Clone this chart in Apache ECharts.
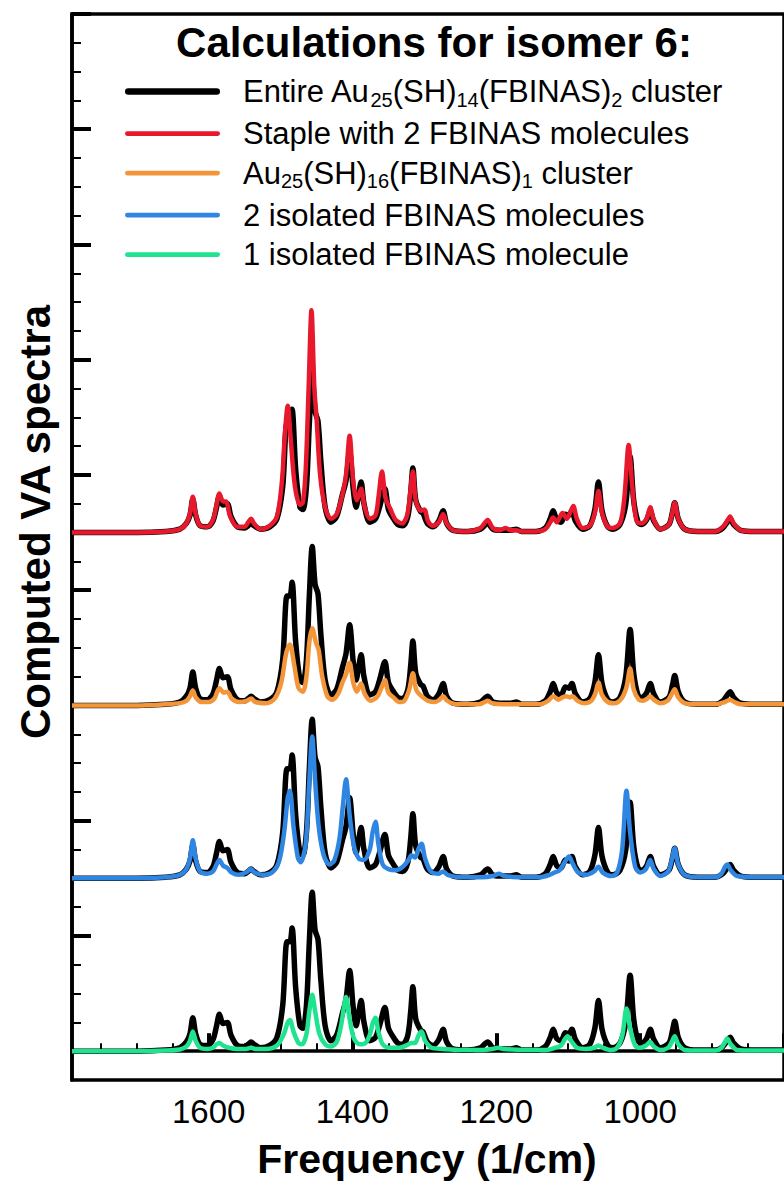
<!DOCTYPE html>
<html>
<head>
<meta charset="utf-8">
<script src="https://cdn.jsdelivr.net/npm/echarts@6/dist/echarts.min.js"></script>
<style>
html,body{margin:0;padding:0;background:#fff;}
#chart{width:784px;height:1183px;}
</style>
</head>
<body>
<div id="chart"></div>
<script>
// ---------- data (frequency in 1/cm, intensity in arbitrary units) ----------
const legendLabels = [
  'Entire Au_{25}(SH)_{14}(FBINAS)_{2} cluster',
  'Staple with 2 FBINAS molecules',
  'Au_{25}(SH)_{16}(FBINAS)_{1} cluster',
  '2 isolated FBINAS molecules',
  '1 isolated FBINAS molecule'
];
const seriesColors = ['#000000', '#e8192c', '#f3963a', '#2f86e2', '#1fe38e'];
const panelOffsets = [4.5, 3, 1.5, 0];

const xMajorTicks = [1600, 1400, 1200, 1000, 800];
const xTickLabels = [1600, 1400, 1200, 1000];
const xMinorTicks = [1750, 1700, 1650, 1550, 1500, 1450, 1350, 1300, 1250, 1150, 1100, 1050, 950, 900, 850];
const yMajorTicks = [0, 1, 2, 3, 4, 5, 6, 7, 8, 9];
const yMinorTicks = [0.25,0.5,0.75,1.25,1.5,1.75,2.25,2.5,2.75,3.25,3.5,3.75,4.25,4.5,4.75,5.25,5.5,5.75,6.25,6.5,6.75,7.25,7.5,7.75,8.25,8.5,8.75];

const entireCluster = [
[1790,0],[1700,0],[1660,0.01],[1640,0.03],[1631,0.08],[1626,0.15],[1622,0.29],[1618,0.15],[1612,0.06],[1602,0.05],
[1594,0.10],[1589,0.22],[1585,0.32],[1580,0.24],[1574,0.25],[1569,0.14],[1560,0.05],[1550,0.04],[1545,0.06],[1541,0.08],
[1537,0.06],[1528,0.03],[1515,0.05],[1505,0.12],[1497,0.40],[1491,0.95],[1487,0.95],[1484,1.07],[1479,0.55],[1473,0.22],
[1469,0.20],[1464,0.40],[1460,0.95],[1456,1.38],[1452,1.05],[1448,0.97],[1444,0.62],[1438,0.22],[1430,0.09],[1422,0.14],
[1414,0.33],[1409,0.45],[1404,0.70],[1399,0.38],[1395,0.22],[1391,0.35],[1388,0.44],[1384,0.25],[1376,0.09],[1368,0.12],
[1362,0.23],[1355,0.38],[1350,0.20],[1344,0.13],[1337,0.07],[1330,0.06],[1323,0.14],[1319,0.35],[1316,0.56],[1312,0.28],
[1305,0.18],[1302,0.17],[1296,0.08],[1288,0.05],[1280,0.10],[1274,0.19],[1269,0.08],[1260,0.02],[1240,0.01],[1222,0.03],
[1212,0.08],[1205,0.03],[1195,0.02],[1187,0.02],[1180,0.02],[1172,0.03],[1165,0.01],[1145,0.01],[1132,0.04],[1125,0.12],
[1121,0.19],[1116,0.11],[1110,0.09],[1104,0.16],[1099,0.15],[1095,0.19],[1090,0.10],[1080,0.03],[1070,0.06],[1063,0.20],
[1058,0.44],[1053,0.19],[1045,0.05],[1038,0.03],[1028,0.07],[1020,0.25],[1014,0.66],[1009,0.28],[1003,0.09],[998,0.07],
[991,0.11],[986,0.19],[981,0.10],[972,0.03],[960,0.07],[955,0.18],[952,0.26],[947,0.12],[938,0.03],[920,0.01],
[895,0.01],[885,0.04],[879,0.09],[875,0.12],[870,0.07],[860,0.02],[840,0.01],[800,0.01]
];
const stapleTwoFbinas = [
[1790,0],[1700,0],[1660,0.01],[1640,0.03],[1631,0.08],[1626,0.16],[1622,0.31],[1618,0.16],[1612,0.06],[1602,0.05],
[1594,0.11],[1589,0.24],[1585,0.34],[1580,0.27],[1576,0.27],[1570,0.14],[1560,0.05],[1550,0.05],[1545,0.09],[1541,0.12],
[1537,0.08],[1528,0.03],[1515,0.06],[1505,0.14],[1498,0.45],[1494,0.85],[1490,1.10],[1486,0.82],[1480,0.40],[1473,0.24],
[1469,0.26],[1465,0.55],[1461,1.25],[1457,1.93],[1453,1.25],[1450,1.00],[1445,0.50],[1438,0.22],[1430,0.12],[1422,0.16],
[1414,0.33],[1409,0.50],[1404,0.84],[1399,0.45],[1394,0.28],[1391,0.33],[1388,0.38],[1383,0.22],[1376,0.12],[1368,0.15],
[1364,0.30],[1359,0.53],[1354,0.30],[1347,0.20],[1340,0.11],[1331,0.08],[1324,0.15],[1320,0.33],[1316,0.53],[1312,0.28],
[1305,0.19],[1300,0.20],[1295,0.10],[1288,0.06],[1280,0.09],[1274,0.16],[1269,0.08],[1260,0.02],[1240,0.01],[1222,0.04],
[1212,0.11],[1205,0.04],[1195,0.02],[1187,0.04],[1180,0.02],[1172,0.02],[1165,0.01],[1145,0.01],[1132,0.03],[1125,0.09],
[1121,0.13],[1116,0.09],[1112,0.13],[1108,0.17],[1102,0.12],[1097,0.18],[1093,0.23],[1088,0.12],[1080,0.04],[1070,0.06],
[1063,0.17],[1058,0.36],[1053,0.17],[1045,0.05],[1038,0.04],[1028,0.08],[1022,0.30],[1016,0.76],[1011,0.40],[1005,0.10],
[998,0.08],[991,0.12],[986,0.22],[981,0.11],[972,0.03],[960,0.07],[955,0.18],[952,0.26],[947,0.12],[938,0.03],
[920,0.01],[895,0.01],[885,0.05],[879,0.10],[875,0.14],[870,0.08],[860,0.02],[840,0.01],[800,0.01]
];
const clusterOneFbinas = [
[1790,0],[1700,0],[1660,0.01],[1640,0.02],[1631,0.04],[1626,0.08],[1622,0.13],[1618,0.07],[1610,0.03],[1600,0.03],
[1592,0.06],[1588,0.12],[1585,0.15],[1579,0.11],[1574,0.12],[1568,0.06],[1558,0.03],[1547,0.04],[1541,0.06],[1535,0.03],
[1520,0.02],[1508,0.06],[1499,0.20],[1492,0.46],[1487,0.53],[1481,0.35],[1475,0.15],[1469,0.12],[1464,0.25],[1460,0.55],
[1456,0.67],[1451,0.55],[1447,0.48],[1442,0.25],[1435,0.08],[1428,0.05],[1420,0.10],[1414,0.20],[1409,0.27],[1404,0.37],
[1399,0.20],[1394,0.12],[1388,0.19],[1383,0.10],[1375,0.04],[1365,0.08],[1360,0.15],[1355,0.22],[1350,0.11],[1343,0.07],
[1335,0.03],[1328,0.04],[1321,0.14],[1316,0.28],[1311,0.13],[1302,0.07],[1295,0.04],[1285,0.03],[1279,0.05],[1274,0.08],
[1268,0.04],[1255,0.01],[1225,0.01],[1216,0.03],[1212,0.04],[1206,0.02],[1190,0.01],[1172,0.01],[1140,0.01],[1128,0.04],
[1121,0.08],[1114,0.05],[1108,0.07],[1103,0.08],[1098,0.07],[1094,0.08],[1087,0.04],[1078,0.02],[1068,0.04],[1062,0.11],
[1058,0.20],[1053,0.09],[1045,0.03],[1036,0.02],[1026,0.06],[1019,0.16],[1014,0.32],[1009,0.14],[1002,0.05],[996,0.04],
[990,0.06],[986,0.08],[981,0.05],[972,0.02],[962,0.04],[956,0.10],[952,0.14],[947,0.07],[938,0.02],[920,0.01],
[895,0.01],[882,0.03],[875,0.05],[869,0.03],[860,0.01],[800,0.01]
];
const twoIsolatedMolecules = [
[1790,0],[1700,0],[1660,0.01],[1640,0.03],[1631,0.08],[1626,0.17],[1622,0.33],[1618,0.17],[1612,0.06],[1602,0.04],
[1594,0.06],[1589,0.12],[1585,0.16],[1580,0.11],[1574,0.09],[1568,0.05],[1558,0.03],[1548,0.05],[1541,0.08],[1536,0.05],
[1525,0.03],[1512,0.05],[1502,0.15],[1495,0.40],[1490,0.70],[1487,0.76],[1482,0.45],[1476,0.18],[1472,0.14],[1465,0.30],
[1460,0.85],[1456,1.23],[1452,0.85],[1447,0.45],[1440,0.20],[1432,0.12],[1425,0.16],[1418,0.35],[1413,0.65],[1409,0.86],
[1404,0.55],[1398,0.28],[1391,0.17],[1384,0.16],[1376,0.25],[1372,0.40],[1368,0.49],[1364,0.30],[1358,0.12],[1350,0.08],
[1340,0.07],[1330,0.10],[1322,0.16],[1318,0.20],[1313,0.18],[1308,0.26],[1304,0.30],[1299,0.17],[1291,0.06],[1280,0.04],
[1274,0.06],[1268,0.03],[1250,0.01],[1220,0.01],[1205,0.02],[1196,0.04],[1189,0.02],[1170,0.01],[1140,0.01],[1126,0.03],
[1119,0.05],[1112,0.07],[1104,0.15],[1099,0.19],[1094,0.13],[1086,0.05],[1075,0.03],[1064,0.06],[1058,0.10],[1052,0.05],
[1040,0.02],[1032,0.05],[1025,0.25],[1019,0.76],[1014,0.40],[1007,0.10],[1000,0.05],[992,0.08],[986,0.16],[981,0.08],
[972,0.02],[961,0.06],[956,0.16],[952,0.26],[947,0.12],[938,0.03],[920,0.01],[895,0.01],[887,0.04],[882,0.10],
[879,0.12],[874,0.07],[865,0.02],[840,0.01],[800,0.01]
];
const oneIsolatedMolecule = [
[1790,0],[1700,0],[1660,0.005],[1640,0.015],[1631,0.04],[1626,0.09],[1622,0.17],[1618,0.09],[1612,0.03],[1602,0.02],
[1594,0.03],[1589,0.06],[1585,0.07],[1580,0.05],[1572,0.03],[1560,0.02],[1548,0.02],[1541,0.03],[1535,0.02],[1520,0.02],
[1505,0.05],[1496,0.14],[1490,0.25],[1487,0.27],[1482,0.17],[1475,0.07],[1470,0.06],[1464,0.15],[1460,0.35],[1456,0.49],
[1452,0.35],[1446,0.15],[1438,0.06],[1430,0.04],[1422,0.08],[1416,0.22],[1412,0.38],[1409,0.47],[1404,0.28],[1398,0.11],
[1390,0.06],[1382,0.07],[1376,0.14],[1372,0.24],[1368,0.29],[1364,0.17],[1358,0.06],[1348,0.03],[1335,0.03],[1325,0.05],
[1318,0.07],[1313,0.07],[1308,0.14],[1304,0.17],[1299,0.09],[1290,0.03],[1274,0.02],[1250,0.01],[1220,0.01],[1205,0.02],
[1198,0.03],[1190,0.02],[1160,0.01],[1130,0.01],[1118,0.03],[1110,0.05],[1105,0.10],[1101,0.13],[1096,0.09],[1088,0.03],
[1075,0.02],[1064,0.03],[1058,0.05],[1052,0.03],[1040,0.01],[1032,0.03],[1025,0.13],[1019,0.37],[1014,0.20],[1007,0.05],
[1000,0.03],[992,0.05],[986,0.08],[981,0.04],[972,0.01],[961,0.03],[956,0.08],[952,0.13],[947,0.06],[938,0.01],
[920,0.005],[895,0.005],[887,0.03],[882,0.08],[879,0.11],[874,0.06],[865,0.01],[840,0.005],[800,0.005]
];
const componentSpectra = [stapleTwoFbinas, clusterOneFbinas, twoIsolatedMolecules, oneIsolatedMolecule];

// ---------- build options ----------
const FONT = "'Liberation Sans', Arial, Helvetica, sans-serif";
const plainName = s => s.replace(/_\{(\d+)\}/g, '$1');
const richName = s => '{g| }' + s.split(/(_\{\d+\})/).filter(p => p.length).map(p => {
  const m = p.match(/^_\{(\d+)\}$/);
  return m ? '{s|' + m[1] + '}' : '{m|' + p + '}';
}).join('');
const seriesNames = legendLabels.map(plainName);
const richMap = {};
legendLabels.forEach(l => { richMap[plainName(l)] = richName(l); });

const shift = (arr, off) => arr.map(p => [p[0], p[1] + off]);

const series = [];
panelOffsets.forEach(off => {
  series.push({
    name: seriesNames[0], type: 'line', showSymbol: false, smooth: 0.3,
    data: shift(entireCluster, off), z: 2, silent: true,
    lineStyle: { color: seriesColors[0], width: 5.5 }, itemStyle: { color: seriesColors[0] }
  });
});
componentSpectra.forEach((spec, i) => {
  series.push({
    name: seriesNames[i + 1], type: 'line', showSymbol: false, smooth: 0.3,
    data: shift(spec, panelOffsets[i]), z: 3, silent: true,
    lineStyle: { color: seriesColors[i + 1], width: 4.5 }, itemStyle: { color: seriesColors[i + 1] }
  });
});

const thickIcon = 'path://M3.5,0L96.5,0A3.5,3.5,0,0,1,96.5,7L3.5,7A3.5,3.5,0,0,1,3.5,0Z';
const thinIcon = 'path://M2.5,0L97.5,0A2.5,2.5,0,0,1,97.5,5L2.5,5A2.5,2.5,0,0,1,2.5,0Z';

const axisBase = {
  type: 'value', min: 800, max: 1790, inverse: true, position: 'bottom', splitLine: { show: false }
};
const option = {
  backgroundColor: '#ffffff',
  animation: false,
  title: {
    text: 'Calculations for isomer 6:', left: 434, top: 21, textAlign: 'center', padding: 0,
    textStyle: { fontSize: 42, fontWeight: 'bold', fontFamily: FONT, color: '#000' }
  },
  legend: {
    orient: 'vertical', left: 120, top: 71, itemWidth: 95, itemHeight: 8, itemGap: 8.5,
    selectedMode: false, symbolKeepAspect: true,
    data: seriesNames.map((n, i) => ({ name: n, icon: i === 0 ? thickIcon : thinIcon, itemStyle: { color: seriesColors[i] } })),
    formatter: n => richMap[n],
    textStyle: {
      color: '#000',
      rich: {
        g: { width: 18 },
        m: { fontSize: 31, lineHeight: 36, fontFamily: FONT, color: '#000' },
        s: { fontSize: 20, lineHeight: 18, verticalAlign: 'bottom', fontFamily: FONT, color: '#000' }
      }
    }
  },
  grid: { left: 72, right: -42, top: 14, bottom: 103, show: true, borderColor: '#000', borderWidth: 3.5, backgroundColor: 'transparent' },
  xAxis: [
    Object.assign({}, axisBase, {
      axisLine: { show: true, lineStyle: { color: '#000', width: 3.5 } },
      axisTick: { show: true, inside: true, length: 18, customValues: xMajorTicks, lineStyle: { color: '#000', width: 4 } },
      axisLabel: { show: true, customValues: xTickLabels, margin: 15, fontSize: 33, fontFamily: FONT, color: '#000', formatter: v => String(v) }
    }),
    Object.assign({}, axisBase, {
      axisLine: { show: false },
      axisTick: { show: true, inside: true, length: 8, customValues: xMinorTicks, lineStyle: { color: '#000', width: 2 } },
      axisLabel: { show: false }
    })
  ],
  yAxis: [
    {
      type: 'value', min: -0.25, max: 9, position: 'left', splitLine: { show: false },
      axisLine: { show: true, lineStyle: { color: '#000', width: 3.5 } },
      axisTick: { show: true, inside: true, length: 19, customValues: yMajorTicks, lineStyle: { color: '#000', width: 4 } },
      axisLabel: { show: false }
    },
    {
      type: 'value', min: -0.25, max: 9, position: 'left', splitLine: { show: false },
      axisLine: { show: false },
      axisTick: { show: true, inside: true, length: 9, customValues: yMinorTicks, lineStyle: { color: '#000', width: 2 } },
      axisLabel: { show: false }
    }
  ],
  graphic: [
    { type: 'text', x: 427, y: 1159, silent: true,
      style: { text: 'Frequency (1/cm)', font: 'bold 41px ' + FONT, fill: '#000', align: 'center', verticalAlign: 'middle' } },
    { type: 'text', x: 35, y: 522, rotation: Math.PI / 2, silent: true,
      style: { text: 'Computed VA spectra', font: 'bold 42px ' + FONT, fill: '#000', align: 'center', verticalAlign: 'middle' } }
  ],
  series: series
};

const chart = echarts.init(document.getElementById('chart'), null, { renderer: 'svg', width: 784, height: 1183 });
chart.setOption(option);
</script>
</body>
</html>
